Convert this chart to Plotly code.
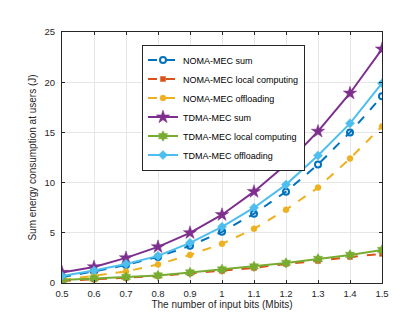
import plotly.graph_objects as go

x_bits = [0.5, 0.6, 0.7, 0.8, 0.9, 1.0, 1.1, 1.2, 1.3, 1.4, 1.5]
noma_sum = [0.6, 1.15, 1.8, 2.6, 3.7, 5.1, 6.9, 9.1, 11.8, 15.0, 18.6]
noma_local = [0.2, 0.35, 0.5, 0.7, 0.95, 1.2, 1.5, 1.9, 2.2, 2.6, 2.9]
noma_off = [0.3, 0.75, 1.15, 1.85, 2.8, 3.9, 5.4, 7.3, 9.5, 12.4, 15.6]
tdma_sum = [1.05, 1.6, 2.5, 3.6, 5.0, 6.8, 9.1, 11.8, 15.1, 18.9, 23.3]
tdma_local = [0.3, 0.45, 0.6, 0.75, 1.05, 1.35, 1.65, 2.0, 2.4, 2.8, 3.3]
tdma_off = [0.7, 1.25, 1.9, 2.7, 4.0, 5.6, 7.5, 9.8, 12.7, 15.9, 19.9]

x_ticks = [0.5, 0.6, 0.7, 0.8, 0.9, 1, 1.1, 1.2, 1.3, 1.4, 1.5]
y_ticks = [0, 5, 10, 15, 20, 25]

series = [
    ("NOMA-MEC sum", noma_sum, "#0072BD", "dash", "circle-open", 6),
    ("NOMA-MEC local computing", noma_local, "#D95319", "dash", "square", 5),
    ("NOMA-MEC offloading", noma_off, "#EDB120", "dash", "circle", 6),
    ("TDMA-MEC sum", tdma_sum, "#7E2F8E", "solid", "star", 10),
    ("TDMA-MEC local computing", tdma_local, "#77AC30", "solid", "hexagram", 8),
    ("TDMA-MEC offloading", tdma_off, "#4DBEEE", "solid", "diamond", 7),
]

fig = go.Figure()
for name, ys, color, dash, sym, size in series:
    fig.add_trace(go.Scatter(
        x=x_bits, y=ys, name=name, mode="lines+markers",
        line=dict(color=color, width=2, dash=dash),
        marker=dict(symbol=sym, size=size, color=color,
                    line=dict(color=color, width=2 if sym == "circle-open" else 0.5)),
    ))

axis_common = dict(
    showline=True, linecolor="#262626", linewidth=1, mirror="ticks",
    ticks="inside", ticklen=3, tickcolor="#262626",
    showgrid=True, gridcolor="#e6e6e6", gridwidth=1, zeroline=False,
    tickfont=dict(size=9.5, color="#262626"),
)

fig.update_layout(
    width=415, height=312,
    margin=dict(l=54, r=41, t=24, b=34),
    paper_bgcolor="white", plot_bgcolor="white",
    font=dict(family="Liberation Sans, Arial, sans-serif", size=9, color="#262626"),
    xaxis=dict(range=[0.5, 1.5], tickvals=x_ticks, ticktext=[str(v) for v in x_ticks],
               ticklabelstandoff=2,
               title=dict(text="The number of input bits (Mbits)", font=dict(size=10), standoff=2),
               **axis_common),
    yaxis=dict(range=[0, 25], tickvals=y_ticks, ticklabelstandoff=4,
               title=dict(text="Sum energy consumption at users (J)", font=dict(size=10), standoff=6),
               **axis_common),
    legend=dict(x=0.25, y=0.95, xanchor="left", yanchor="top",
                bgcolor="white", bordercolor="#262626", borderwidth=1,
                font=dict(size=9, color="#000000"), tracegroupgap=0,
                itemwidth=30),
    showlegend=True,
)

fig.write_html("out.html")
